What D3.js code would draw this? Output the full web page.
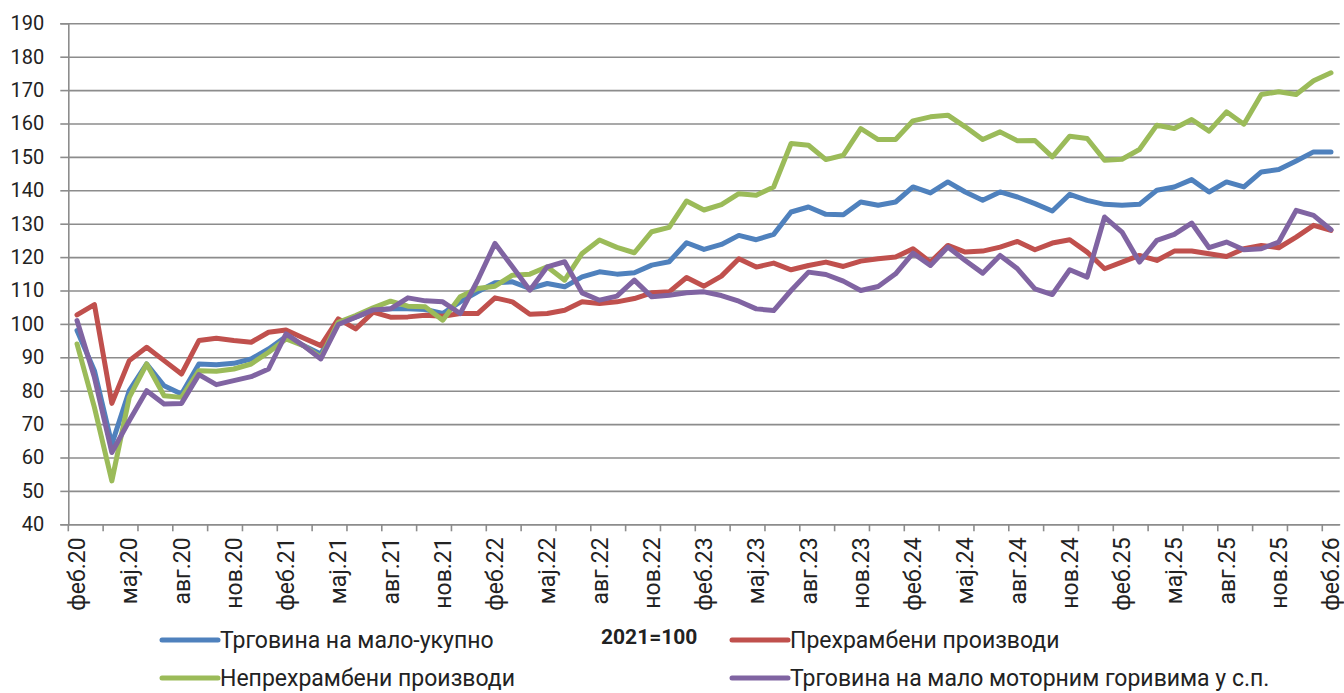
<!DOCTYPE html>
<html>
<head>
<meta charset="utf-8">
<script src="https://cdn.jsdelivr.net/npm/d3@7"></script>
<style>
  body { margin: 0; background: #fff; }
  svg text { font-family: Roboto, "Noto Sans", sans-serif; fill: #222; }
</style>
</head>
<body>
<div id="chart"></div>
<script>
// month names for the category axis
var monthNames = ["јан", "феб", "мар", "апр", "мај", "јун", "јул", "авг", "сеп", "окт", "нов", "дец"];

// feb.20 .. feb.26, monthly
var months = [];
for (var k = 0; k < 73; k++) {
  var m = (1 + k) % 12;
  var yy = 20 + Math.floor((1 + k) / 12);
  months.push(monthNames[m] + "." + yy);
}

var totalRetail = [98, 86, 64, 80, 88, 81.5, 79, 88, 87.8, 88.2, 89.5, 92.5, 96.2, 93.5, 91, 100.2, 102, 104, 104.5,
  104.5, 104.3, 103.1, 106.6, 109.6, 112.3, 112.6, 110.6, 112.1, 111.1, 114.1, 115.6, 114.9, 115.3, 117.6, 118.6, 124.3, 122.3, 123.8,
  126.5, 125.2, 126.8, 133.5, 135, 132.8, 132.7, 136.5, 135.5, 136.5, 141, 139.2, 142.5, 139.5, 137, 139.5, 138, 136,
  133.8, 138.8, 137, 135.8, 135.5, 135.8, 140, 141, 143.2, 139.5, 142.5, 141, 145.5, 146.2, 148.8, 151.5, 151.5];

var foodProducts = [102.7, 105.8, 76.2, 89, 93, 89, 85, 95, 95.7, 95, 94.5, 97.5, 98.2, 95.8, 93.5, 101.5, 98.5, 103.5, 102,
  102.1, 102.6, 102.3, 103.1, 103.1, 107.8, 106.6, 102.9, 103.1, 104.1, 106.6, 106.1, 106.6, 107.6, 109.3, 109.6, 113.9, 111.3, 114.3,
  119.5, 117, 118.2, 116.2, 117.5, 118.5, 117.2, 118.8, 119.5, 120, 122.5, 118.5, 123.5, 121.5, 121.8, 123, 124.7, 122.2,
  124.2, 125.2, 121.5, 116.5, 118.5, 120.5, 119, 121.8, 121.8, 121, 120.2, 122.5, 123.5, 122.8, 126, 129.5, 128];

var nonFoodProducts = [94, 75, 53, 78, 88, 78.5, 78, 86, 85.8, 86.5, 88, 91.5, 95.5, 93.5, 90, 100.5, 102.5, 104.8, 106.8,
  105.3, 105.1, 101.1, 108.1, 110.6, 111.3, 114.6, 114.9, 117.1, 113.1, 121.1, 125.1, 122.9, 121.3, 127.6, 128.9, 136.8, 134.1, 135.7,
  139, 138.5, 141, 154, 153.5, 149.2, 150.5, 158.5, 155.2, 155.2, 160.8, 162, 162.5, 159, 155.2, 157.5, 154.8, 154.9,
  150, 156.2, 155.5, 149, 149.3, 152.2, 159.5, 158.5, 161.2, 157.7, 163.5, 159.8, 168.7, 169.5, 168.7, 172.8, 175.2];

var motorFuels = [101, 84, 61.5, 71, 80, 76, 76.2, 84.8, 81.8, 83, 84.2, 86.5, 97, 93.5, 89.5, 99.8, 102, 104.2, 104.5,
  107.8, 106.9, 106.6, 103.1, 113, 124.1, 117.1, 110.1, 117.1, 118.6, 109.3, 107.1, 108.3, 113.1, 108.1, 108.6, 109.3, 109.6, 108.5,
  106.8, 104.5, 104, 110, 115.5, 114.8, 112.8, 110, 111.2, 115, 121.2, 117.5, 123, 119, 115.2, 120.5, 116.5, 110.5,
  108.8, 116.2, 114, 132, 127.5, 118.5, 125, 126.8, 130.2, 122.8, 124.5, 122.2, 122.5, 124.5, 134, 132.5, 128.2];

var seriesNames = ["Трговина на мало-укупно", "Прехрамбени производи", "Непрехрамбени производи", "Трговина на мало моторним горивима у с.п."];
var seriesColors = ["#4F81BD", "#C0504D", "#9BBB59", "#8064A2"];
var yTicks = [40, 50, 60, 70, 80, 90, 100, 110, 120, 130, 140, 150, 160, 170, 180, 190];
var baseNote = "2021=100";

var svgWidth = 1344;
var svgHeight = 693;

var plotLeft = 68.3, plotRight = 1339.7, plotTop = 23.3, plotBottom = 524.3;

var svg = d3.select("#chart")
  .append("svg")
  .attr("width", svgWidth)
  .attr("height", svgHeight);

var x = d3.scaleBand()
  .domain(months)
  .range([plotLeft, plotRight])
  .paddingInner(0)
  .paddingOuter(0);
var step = x.bandwidth();
var cx = d => x(d) + step / 2;

var y = d3.scaleLinear()
  .domain([40, 190])
  .range([plotBottom, plotTop]);

// gridlines
svg.append("g")
  .attr("class", "grid")
  .attr("transform", `translate(${plotLeft}, 0)`)
  .call(d3.axisLeft(y).tickValues(yTicks).tickSize(-(plotRight - plotLeft)).tickFormat(""))
  .call(g => g.select(".domain").remove())
  .selectAll("line")
  .attr("stroke", "#8c8c8c")
  .attr("stroke-width", 1.6);

// y axis
var yAxis = svg.append("g")
  .attr("transform", `translate(${plotLeft}, 0)`)
  .call(d3.axisLeft(y).tickValues(yTicks).tickSize(8).tickPadding(16));
yAxis.select(".domain").attr("stroke", "#8c8c8c").attr("stroke-width", 1.6);
yAxis.selectAll("line").attr("stroke", "#8c8c8c").attr("stroke-width", 1.6);
yAxis.selectAll("text").style("font-size", "20px").attr("fill", "#222");

// x axis: labels every third month
var xAxis = svg.append("g")
  .attr("transform", `translate(0, ${plotBottom})`)
  .call(d3.axisBottom(x).tickValues(months.filter((d, i) => i % 3 === 0)).tickSize(0));
xAxis.select(".domain").attr("stroke", "#8c8c8c").attr("stroke-width", 1.6);
xAxis.selectAll("text")
  .style("font-size", "23px")
  .style("text-anchor", "end")
  .attr("fill", "#222")
  .attr("dy", "0.35em")
  .attr("transform", "translate(0, 13) rotate(-90)")
  .attr("x", 0)
  .attr("y", 0);

// x tick marks every second month
var tickPos = d3.range(0, months.length + 1, 2).map(i => plotLeft + i * step);
svg.append("g")
  .selectAll("line")
  .data(tickPos)
  .enter()
  .append("line")
  .attr("x1", d => d)
  .attr("x2", d => d)
  .attr("y1", plotBottom)
  .attr("y2", plotBottom + 7)
  .attr("stroke", "#8c8c8c")
  .attr("stroke-width", 1.6);

// series lines
var allSeries = [totalRetail, foodProducts, nonFoodProducts, motorFuels];
var line = d3.line()
  .x((d, i) => cx(months[i]))
  .y(d => y(d));

[0, 1, 2, 3].forEach(function(s) {
  svg.append("path")
    .datum(allSeries[s])
    .attr("fill", "none")
    .attr("stroke", seriesColors[s])
    .attr("stroke-width", 5)
    .attr("stroke-linejoin", "round")
    .attr("stroke-linecap", "round")
    .attr("d", line);
});

// legend
var legendPos = [[162, 640], [732, 640], [162, 678], [732, 678]];
seriesNames.forEach(function(name, s) {
  var g = svg.append("g").attr("transform", `translate(${legendPos[s][0]}, ${legendPos[s][1]})`);
  g.append("line")
    .attr("x1", 0).attr("x2", 56)
    .attr("y1", 0).attr("y2", 0)
    .attr("stroke", seriesColors[s])
    .attr("stroke-width", 5)
    .attr("stroke-linecap", "round");
  g.append("text")
    .attr("x", 58)
    .attr("y", 0)
    .attr("dy", "0.35em")
    .style("font-size", "23px")
    .text(name);
});

svg.append("text")
  .attr("x", 601)
  .attr("y", 637)
  .attr("dy", "0.35em")
  .style("font-size", "21px")
  .style("font-weight", "bold")
  .attr("fill", "#000")
  .text(baseNote);
</script>
</body>
</html>
